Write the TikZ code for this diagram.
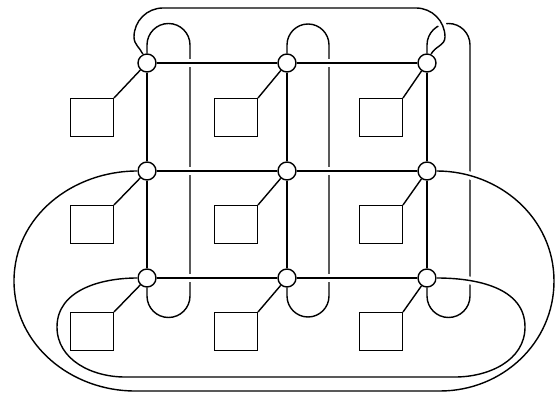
\documentclass[tikz,border=0pt]{standalone}
\usepackage{tikz}
\usetikzlibrary{calc}

\begin{document}
\begin{tikzpicture}[x=0.02cm, y=0.02cm, line width=0.8pt,
        dot/.style={draw,circle,fill=white,minimum size=0.36cm,inner sep=0pt},
        box/.style={draw,minimum width=0.86cm,minimum height=0.76cm,inner sep=0pt,anchor=north east},
        over/.style={preaction={draw=white,line width=4.5pt}}]
        \useasboundingbox (0,0) rectangle (557,-394);
        % switches
        \node[dot] (c11) at (147,-63) {};
        \node[dot] (c12) at (287,-63) {};
        \node[dot] (c13) at (427,-63) {};
        \node[dot] (c21) at (147,-171) {};
        \node[dot] (c22) at (287,-171) {};
        \node[dot] (c23) at (427,-171) {};
        \node[dot] (c31) at (147,-278) {};
        \node[dot] (c32) at (287,-278) {};
        \node[dot] (c33) at (427,-278) {};
        % processors
        \node[box] (s11) at (114,-98) {};
        \node[box] (s12) at (258,-98) {};
        \node[box] (s13) at (403,-98) {};
        \node[box] (s21) at (114,-205) {};
        \node[box] (s22) at (258,-205) {};
        \node[box] (s23) at (403,-205) {};
        \node[box] (s31) at (114,-312) {};
        \node[box] (s32) at (258,-312) {};
        \node[box] (s33) at (403,-312) {};
        % column wrap-around
        \draw (c11) -- (147,-45) arc[start angle=180,end angle=0,radius=21.5] -- (190,-296) arc[start angle=0,end angle=-180,radius=21.5] -- (c31);
        \draw (c12) -- (287,-45) arc[start angle=180,end angle=0,radius=21] -- (329,-296) arc[start angle=0,end angle=-180,radius=21] -- (c32);
        \draw (c13) -- (427,-45) arc[start angle=180,end angle=0,radius=21.5] -- (470,-296) arc[start angle=0,end angle=-180,radius=21.5] -- (c33);
        \draw (c11) -- (c21) -- (c31);
        \draw (c12) -- (c22) -- (c32);
        \draw (c13) -- (c23) -- (c33);
        % rows
        \draw[over] (c11) -- (c12) -- (c13);
        \draw[over] (c21) -- (c22) -- (c23);
        \draw[over] (c31) -- (c32) -- (c33);
        % row wrap-around
        \draw[over] (c11) to[out=115,in=270] (134,-37) arc[start angle=180,end angle=90,radius=29] -- (416,-8)
            arc[start angle=90,end angle=0,radius=29] to[out=270,in=65] (c13);
        \draw[over] (c21) to[out=180,in=90] (14,-281) to[out=270,in=180] (135,-391) -- (440,-391)
            to[out=0,in=270] (554,-281) to[out=90,in=0] (c23);
        \draw[over] (c31) to[out=180,in=90] (57,-327) to[out=270,in=180] (125,-377) -- (455,-377)
            to[out=0,in=270] (525,-327) to[out=90,in=0] (c33);
        % links
        \draw (s11.north east) -- (c11);
        \draw (s12.north east) -- (c12);
        \draw (s13.north east) -- (c13);
        \draw (s21.north east) -- (c21);
        \draw (s22.north east) -- (c22);
        \draw (s23.north east) -- (c23);
        \draw (s31.north east) -- (c31);
        \draw (s32.north east) -- (c32);
        \draw (s33.north east) -- (c33);
    \end{tikzpicture}
\end{document}
